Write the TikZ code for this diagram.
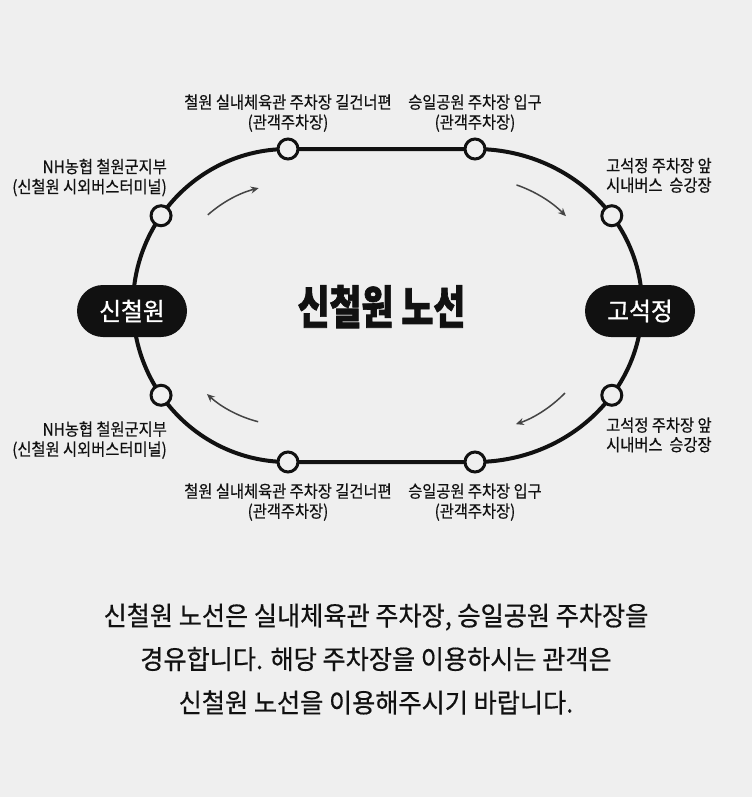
\documentclass[tikz,border=0pt]{standalone}
\usepackage{fontspec}
\setmainfont{Noto Sans CJK KR}
\newfontfamily\labelfont{Noto Sans CJK KR}[FakeStretch=0.9,FakeBold=0.4]
\newfontfamily\parafont{Noto Sans CJK KR}[FakeStretch=0.95,FakeBold=0.5]
\newfontfamily\titlefont{Noto Sans CJK KR}[FakeStretch=0.755,FakeBold=1.5]
\newfontfamily\pillfont{Noto Sans CJK KR}[FakeStretch=0.95,FakeBold=1]
\usetikzlibrary{arrows.meta,calc}
\definecolor{bg}{HTML}{EFEFEF}
\definecolor{ink}{HTML}{111111}
\definecolor{arrowgray}{HTML}{444444}
\begin{document}
\begin{tikzpicture}[x=1pt,y=-1pt,
  track/.style={draw=ink,line width=4pt},
  stop/.style={circle,draw=ink,line width=3pt,fill=bg,minimum size=20pt,inner sep=0pt},
  pill/.style={rectangle,rounded corners=26pt,fill=ink,minimum width=110pt,minimum height=52pt,inner sep=0pt,text=white,font=\pillfont\fontsize{25pt}{28pt}\selectfont},
  lbl/.style={text=ink,inner sep=0pt,font=\labelfont\fontsize{17pt}{20pt}\selectfont},
  para/.style={text=ink,inner sep=0pt,anchor=base,font=\parafont\fontsize{26.5pt}{30pt}\selectfont},
  dirarrow/.style={draw=arrowgray,line width=1.5pt,-{Stealth[length=8pt,width=7pt]}},
]
\fill[bg] (0,0) rectangle (752,797);
\useasboundingbox (0,0) rectangle (752,797);

\coordinate (cL) at (288,305.5);
\coordinate (cR) at (475,305.5);

% track
\draw[track] (288,149) -- (475,149)
  arc[start angle=-90,end angle=90,x radius=167,y radius=156.5]
  -- (288,462)
  arc[start angle=90,end angle=270,x radius=155,y radius=156.5] -- cycle;

% direction arrows
\draw[dirarrow] ($(cL)+(228.5:121)$) arc[start angle=228.5,end angle=256,radius=121];
\draw[dirarrow] ($(cR)+(289:127.5)$) arc[start angle=289,end angle=315.5,radius=127.5];
\draw[dirarrow] ($(cR)+(44.2:125.5)$) arc[start angle=44.2,end angle=71,radius=125.5];
\draw[dirarrow] ($(cL)+(104.4:120)$) arc[start angle=104.4,end angle=132.5,radius=120];

% stops
\node[stop] (sT1) at (288,149) {};
\node[stop] (sT2) at (475,149) {};
\node[stop] (sB1) at (288,462) {};
\node[stop] (sB2) at (475,462) {};
\node[stop] (sLT) at ($(cL)+(215:155 and 156.5)$) {};
\node[stop] (sLB) at ($(cL)+(145:155 and 156.5)$) {};
\node[stop] (sRT) at ($(cR)+(325:167 and 156.5)$) {};
\node[stop] (sRB) at ($(cR)+(35:167 and 156.5)$) {};

% terminal pills
\node[pill] (pL) at (132,311) {신철원};
\node[pill] (pR) at (640,311) {고석정};

% title
\node[text=ink,inner sep=0pt,anchor=base,font=\titlefont\bfseries\fontsize{46pt}{50pt}\selectfont] (title) at (381.5,324) {신철원 노선};

% top labels
\node[lbl,anchor=base] (lT1a) at (288,108.5) {철원 실내체육관 주차장 길건너편};
\node[lbl,anchor=base] (lT1b) at (288,128.5) {(관객주차장)};
\node[lbl,anchor=base] (lT2a) at (475,108.5) {승일공원 주차장 입구};
\node[lbl,anchor=base] (lT2b) at (475,128.5) {(관객주차장)};
% bottom labels
\node[lbl,anchor=base] (lB1a) at (288,497.5) {철원 실내체육관 주차장 길건너편};
\node[lbl,anchor=base] (lB1b) at (288,517.5) {(관객주차장)};
\node[lbl,anchor=base] (lB2a) at (475,497.5) {승일공원 주차장 입구};
\node[lbl,anchor=base] (lB2b) at (475,517.5) {(관객주차장)};
% left labels
\node[lbl,anchor=base east] (lLTa) at (167,173) {NH농협 철원군지부};
\node[lbl,anchor=base east] (lLTb) at (167,193) {(신철원 시외버스터미널)};
\node[lbl,anchor=base east] (lLBa) at (167,435.5) {NH농협 철원군지부};
\node[lbl,anchor=base east] (lLBb) at (167,455.5) {(신철원 시외버스터미널)};
% right labels
\node[lbl,anchor=base west] (lRTa) at (606,172) {고석정 주차장 앞};
\node[lbl,anchor=base west] (lRTb) at (606,191.5) {시내버스~~승강장};
\node[lbl,anchor=base west] (lRBa) at (606,431.5) {고석정 주차장 앞};
\node[lbl,anchor=base west] (lRBb) at (606,451) {시내버스~~승강장};

% paragraph
\node[para] (p1) at (376,625.5) {신철원 노선은 실내체육관 주차장, 승일공원 주차장을};
\node[para] (p2) at (376,669) {경유합니다. 해당 주차장을 이용하시는 관객은};
\node[para] (p3) at (376,712.5) {신철원 노선을 이용해주시기 바랍니다.};
\end{tikzpicture}
\end{document}
